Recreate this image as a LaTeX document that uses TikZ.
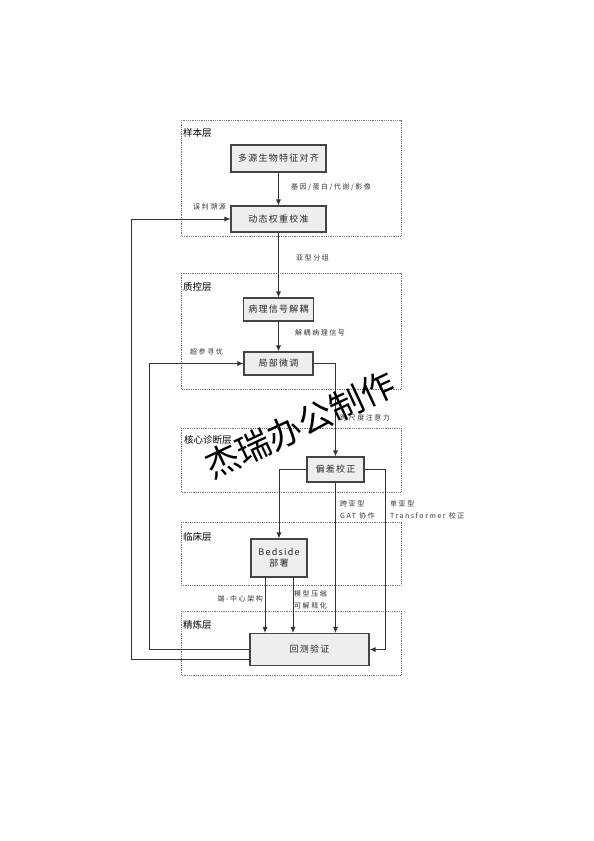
\documentclass[tikz,border=0pt]{standalone}
\usepackage{fontspec}
\setmainfont{Noto Sans CJK SC}
\newfontfamily\spacedfnt{Noto Sans CJK SC}[LetterSpace=22]
\newfontfamily\nodefnt{Noto Sans CJK SC}[LetterSpace=14]
\usetikzlibrary{arrows.meta,calc}
\definecolor{boxfill}{HTML}{EEEEEE}
\definecolor{boxdraw}{HTML}{444444}
\definecolor{layerdraw}{HTML}{777777}
\begin{document}
\begin{tikzpicture}[x=1pt,y=-1pt,
  procbox/.style={draw=boxdraw,line width=1.1pt,fill=boxfill,inner sep=0pt,font=\nodefnt\fontsize{9}{11}\selectfont,align=center,text=black!85},
  layerbox/.style={draw=layerdraw,densely dotted,line width=0.8pt},
  layerlbl/.style={anchor=west,font=\fontsize{9.5}{11}\selectfont,inner sep=0pt},
  smalllbl/.style={font=\spacedfnt\fontsize{7}{12}\selectfont,inner sep=0pt,align=left,text=black!80},
  arr/.style={draw=black!80,line width=0.9pt,-{Latex[length=6pt,width=5pt]}}]
\useasboundingbox (0,0) rectangle (594,841);
% layers
\draw[layerbox] (181,120) rectangle (401,236);
\draw[layerbox] (181,273) rectangle (401,389);
\draw[layerbox] (181,428) rectangle (401,492);
\draw[layerbox] (181,522) rectangle (401,585);
\draw[layerbox] (181,611) rectangle (401,675);
\node[layerlbl] (L1) at (183,133) {样本层};
\node[layerlbl] (L2) at (183,287) {质控层};
\node[layerlbl] (L3) at (184,440) {核心诊断层};
\node[layerlbl] (L4) at (183,537) {临床层};
\node[layerlbl] (L5) at (183,625) {精炼层};
% nodes
\node[procbox,minimum width=95pt,minimum height=27pt] (n1) at (278.5,158.5) {多源生物特征对齐};
\node[procbox,minimum width=95pt,minimum height=26pt] (n2) at (278.5,219) {动态权重校准};
\node[procbox,minimum width=70pt,minimum height=23pt] (n3) at (278.5,309.5) {病理信号解耦};
\node[procbox,minimum width=69pt,minimum height=23pt] (n4) at (278.5,363.5) {局部微调};
\node[procbox,minimum width=57pt,minimum height=25pt] (n5) at (335.5,469.5) {偏差校正};
\node[procbox,minimum width=56pt,minimum height=38pt] (n6) at (279,558) {Bedside\\部署};
\node[procbox,minimum width=119pt,minimum height=32pt] (n7) at (309.5,649.5) {回测验证};
% edges
\draw[arr] (n1) -- (n2);
\draw[arr] (n2) -- (n3);
\draw[arr] (n3) -- (n4);
\draw[arr] (n4.east) -| (n5.north);
\draw[arr] (n5.west) -| (n6.north);
\draw[arr] (n5.east) -- ++(21,0) |- (n7.east);
\draw[arr] (n5.south) -- (n5.south |- n7.north);
\draw[arr] ([xshift=-14pt]n6.south) -- ([xshift=-14pt]n6.south |- n7.north);
\draw[arr] ([xshift=14pt]n6.south) -- ([xshift=14pt]n6.south |- n7.north);
\draw[arr] (n7.west) -- ++(-100,0) |- (n4.west);
\draw[arr] ([yshift=-10pt]n7.west) -- ++(-118,0) |- (n2.west);
% labels
\node[smalllbl,anchor=west] (t1) at (291,187) {基因/蛋白/代谢/影像};
\node[smalllbl,anchor=west] (t2) at (193,207) {误判溯源};
\node[smalllbl,anchor=west] (t3) at (296,258) {亚型分组};
\node[smalllbl,anchor=west] (t4) at (295,333) {解耦病理信号};
\node[smalllbl,anchor=west] (t5) at (190,352) {超参寻优};
\node[smalllbl,anchor=west] (t6) at (340,418) {跨尺度注意力};
\node[smalllbl,anchor=west] (t7) at (340,509.5) {跨亚型\\GAT 协作};
\node[smalllbl,anchor=west] (t8) at (390,509.5) {单亚型\\Transformer 校正};
\node[smalllbl,anchor=east] (t9) at (263,599) {端-中心架构};
\node[smalllbl,anchor=west] (t10) at (294,599.5) {模型压缩\\可解释化};
% watermark
\node[font=\fontsize{34}{36}\selectfont,rotate=25,inner sep=0pt] (wm) at (300,425) {杰瑞办公制作};
\end{tikzpicture}
\end{document}
